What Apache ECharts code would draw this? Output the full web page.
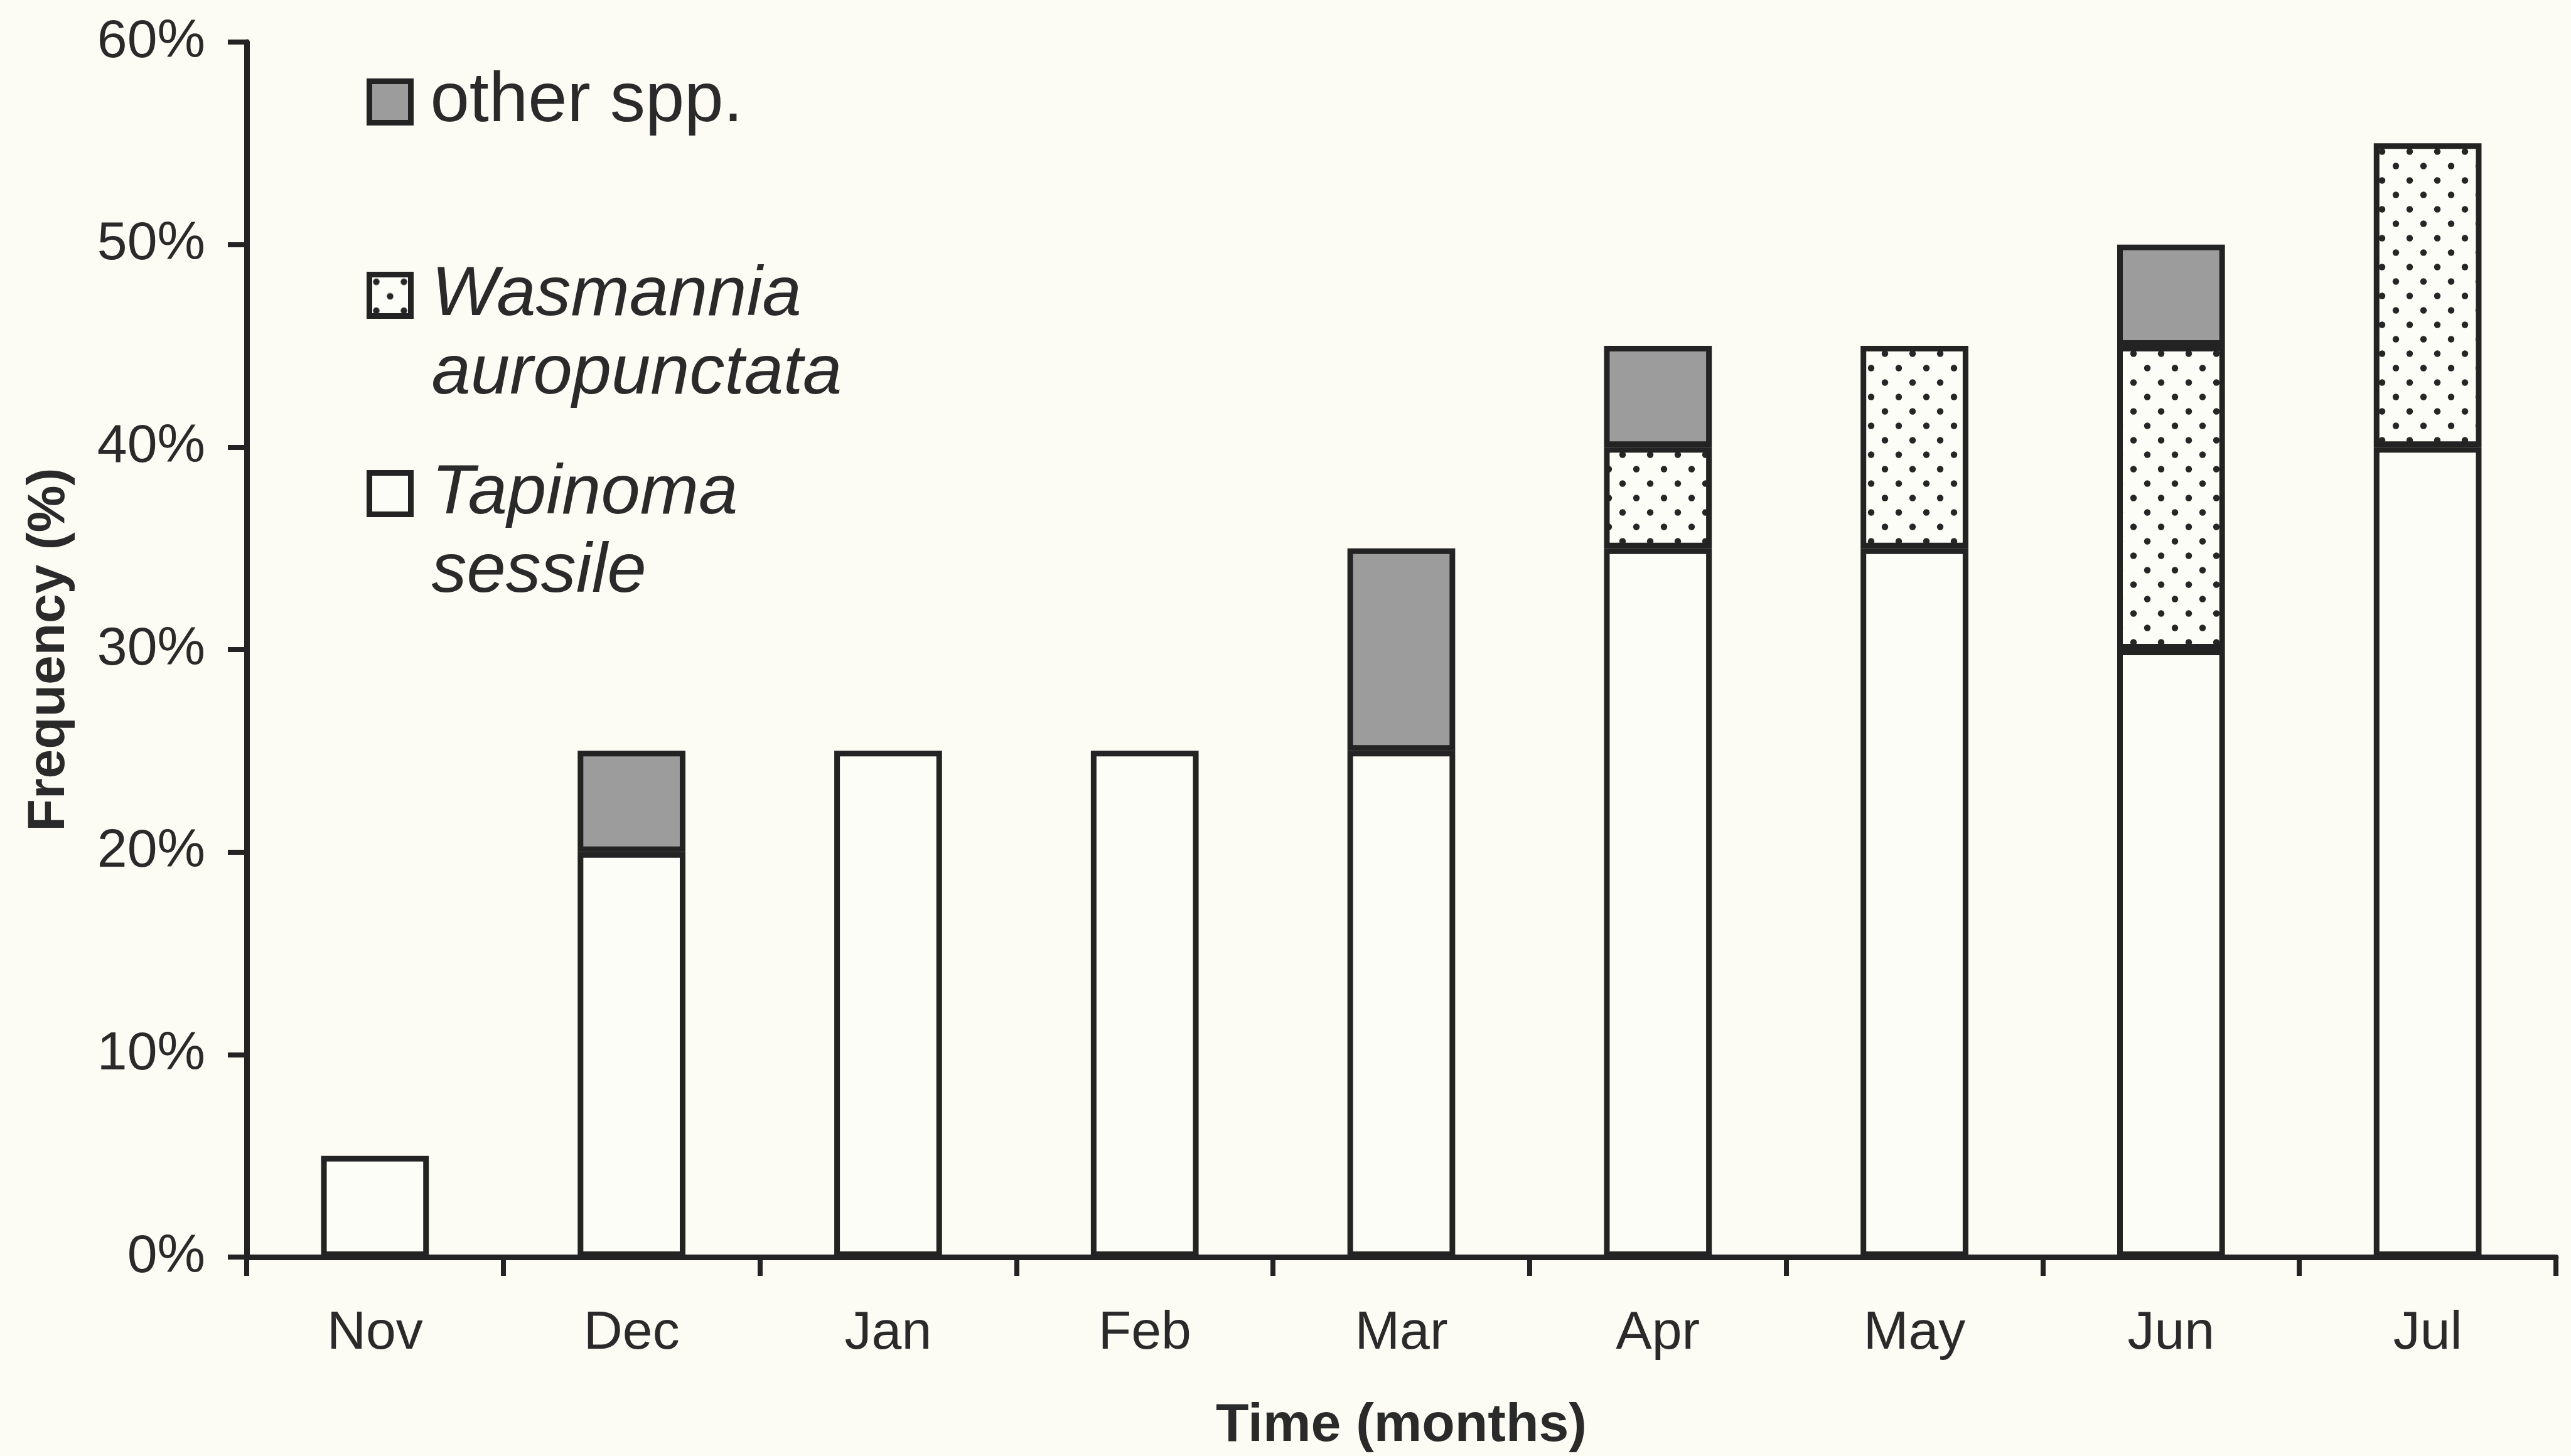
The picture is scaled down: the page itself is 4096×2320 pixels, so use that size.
<!DOCTYPE html>
<html>
<head>
<meta charset="utf-8">
<script src="https://cdn.jsdelivr.net/npm/echarts@6/dist/echarts.min.js"></script>
<style>
html,body{margin:0;padding:0;background:#fcfcf5;}
#chart{width:4096px;height:2320px;}
</style>
</head>
<body>
<div id="chart"></div>
<script>
// ---- data ----
const months = ['Nov','Dec','Jan','Feb','Mar','Apr','May','Jun','Jul'];
const tapinoma = [5, 20, 25, 25, 25, 35, 35, 30, 40];
const wasmannia = [0, 0, 0, 0, 0, 5, 10, 15, 15];
const otherSpp = [0, 5, 0, 0, 10, 5, 0, 5, 0];
const yTicks = [0, 10, 20, 30, 40, 50, 60];
const seriesNames = ['Tapinoma sessile', 'Wasmannia auropunctata', 'other spp.'];

// dotted pattern
function dotPattern() {
  const c = document.createElement('canvas');
  c.width = 44; c.height = 46;
  const g = c.getContext('2d');
  g.fillStyle = '#fdfdf8';
  g.fillRect(0, 0, 44, 46);
  g.fillStyle = '#262626';
  [[11, 11.5], [33, 34.5]].forEach(p => {
    g.beginPath(); g.arc(p[0], p[1], 5.2, 0, Math.PI * 2); g.fill();
  });
  return c;
}
const dots = { image: dotPattern(), repeat: 'repeat' };
const WHITE = '#fdfdf8', GRAY = '#9c9c9c', LINE = '#232323', TXT = '#2a2a2a';
const FONT = '"Liberation Sans", Arial, sans-serif';

const nz = a => a.map(v => (v === 0 ? null : v));

const chart = echarts.init(document.getElementById('chart'));
const legendBase = {
  orient: 'vertical', left: 584, padding: 0,
  itemWidth: 66, itemHeight: 66, icon: 'rect',
  itemStyle: { borderColor: LINE, borderWidth: 9 },
  selectedMode: false
};
chart.setOption({
  animation: false,
  backgroundColor: '#fcfcf5',
  grid: { left: 393, right: 24, top: 67, bottom: 303, containLabel: false },
  legend: [
    Object.assign({}, legendBase, {
      top: 100,
      data: [{ name: 'other spp.', itemStyle: { color: GRAY } }],
      textStyle: { fontFamily: FONT, fontSize: 112, lineHeight: 125, color: TXT, padding: [0, 0, 0, 26] }
    }),
    Object.assign({}, legendBase, {
      top: 283,
      data: [{ name: 'Wasmannia auropunctata', itemStyle: { color: dots } }],
      formatter: n => '\n' + n.split(' ').join('\n'),
      textStyle: { fontFamily: FONT, fontSize: 112, lineHeight: 125, fontStyle: 'italic', color: TXT, padding: [0, 0, 0, 28] }
    }),
    Object.assign({}, legendBase, {
      top: 599,
      data: [{ name: 'Tapinoma sessile', itemStyle: { color: WHITE } }],
      formatter: n => '\n' + n.split(' ').join('\n'),
      textStyle: { fontFamily: FONT, fontSize: 112, lineHeight: 125, fontStyle: 'italic', color: TXT, padding: [0, 0, 0, 28] }
    })
  ],
  xAxis: {
    type: 'category',
    data: months,
    boundaryGap: true,
    name: 'Time (months)',
    nameLocation: 'middle',
    nameGap: 226,
    nameTextStyle: { fontFamily: FONT, fontSize: 86, fontWeight: 'bold', color: TXT, lineHeight: 86 },
    axisLine: { lineStyle: { color: LINE, width: 9 } },
    axisTick: { show: true, length: 30, lineStyle: { color: LINE, width: 8 } },
    axisLabel: { fontFamily: FONT, fontSize: 86, color: TXT, margin: 79, lineHeight: 86 },
    splitLine: { show: false }
  },
  yAxis: {
    type: 'value',
    min: 0, max: 60, interval: 10,
    name: 'Frequency (%)',
    nameLocation: 'middle',
    nameGap: 272,
    nameTextStyle: { fontFamily: FONT, fontSize: 84, fontWeight: 'bold', color: TXT, lineHeight: 84 },
    axisLine: { show: true, lineStyle: { color: LINE, width: 9 } },
    axisTick: { show: true, length: 30, lineStyle: { color: LINE, width: 8 } },
    axisLabel: {
      fontFamily: FONT, fontSize: 86, color: TXT, margin: 66,
      formatter: v => (yTicks.indexOf(v) >= 0 ? v + '%' : '')
    },
    splitLine: { show: false }
  },
  series: [
    {
      name: seriesNames[0], type: 'bar', stack: 'a', barWidth: '42%',
      data: nz(tapinoma),
      itemStyle: { color: WHITE, borderColor: LINE, borderWidth: 9 }
    },
    {
      name: seriesNames[1], type: 'bar', stack: 'a', barWidth: '42%',
      data: nz(wasmannia),
      itemStyle: { color: dots, borderColor: LINE, borderWidth: 9 }
    },
    {
      name: seriesNames[2], type: 'bar', stack: 'a', barWidth: '42%',
      data: nz(otherSpp),
      itemStyle: { color: GRAY, borderColor: LINE, borderWidth: 9 }
    }
  ]
});
</script>
</body>
</html>
